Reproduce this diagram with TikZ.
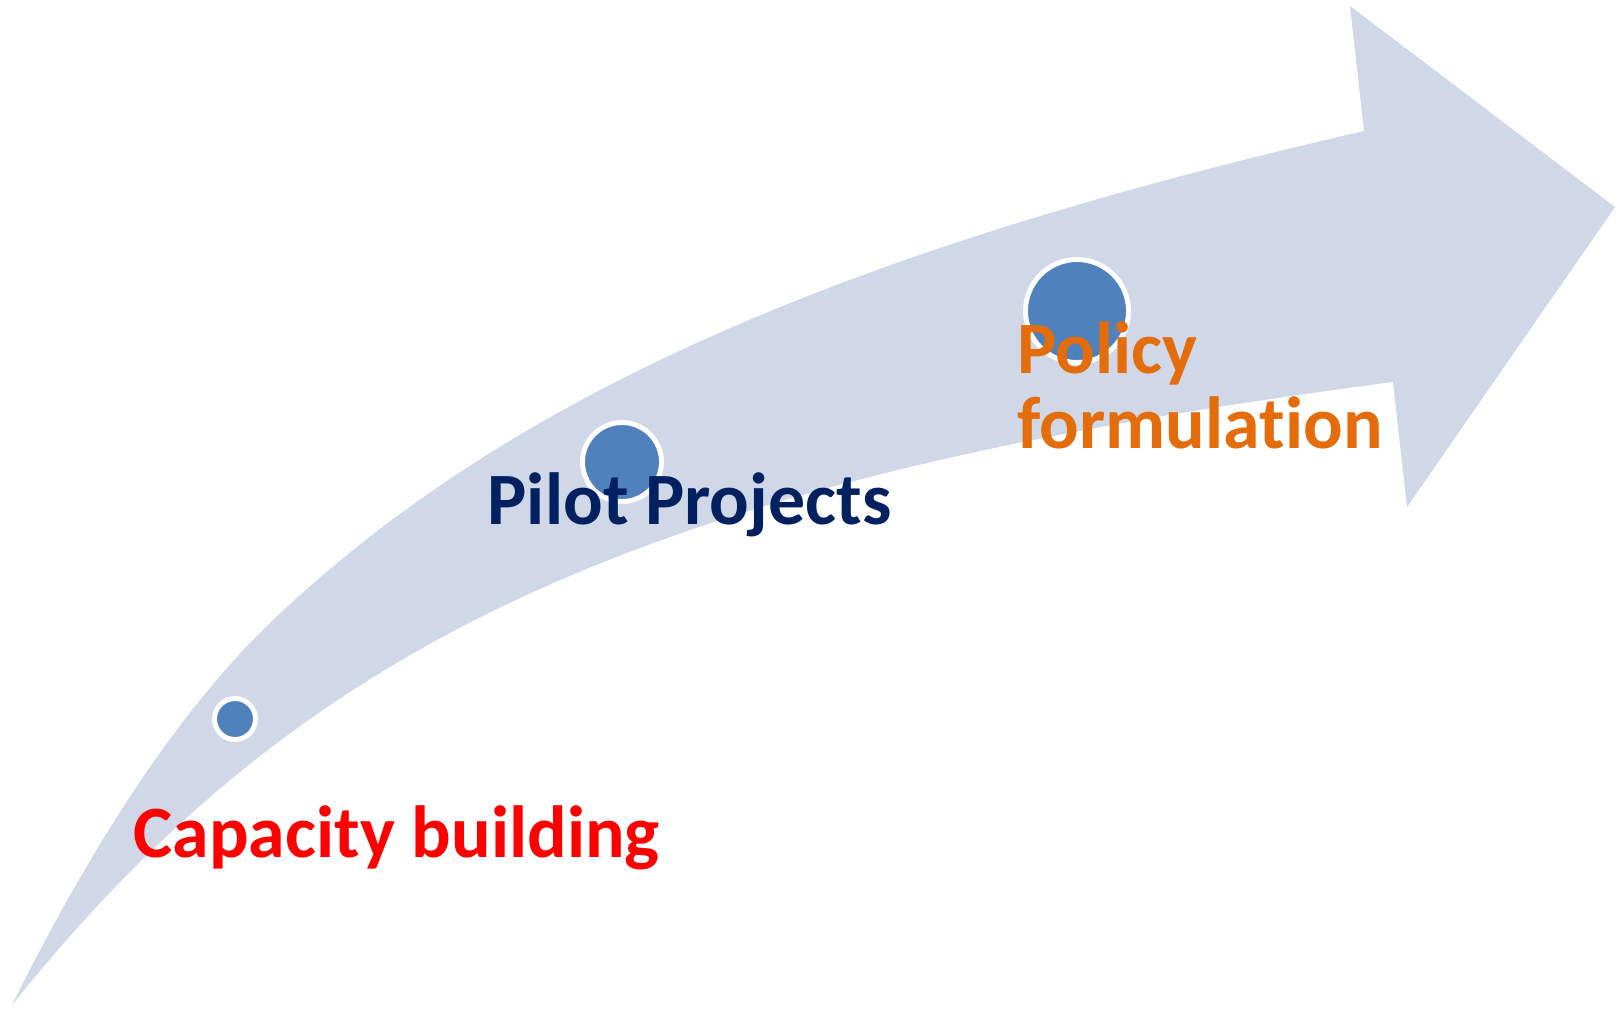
\documentclass[tikz,border=0pt]{standalone}
\usepackage{fontspec}
\setmainfont{Carlito}[Ligatures=NoCommon]
\usepackage{tikz}
\definecolor{bandfill}{HTML}{D0D8E8}
\definecolor{dotfill}{HTML}{4F81BD}
\definecolor{stepnavy}{HTML}{002060}
\definecolor{steporange}{HTML}{E46C0A}
\begin{document}
\begin{tikzpicture}[
  x=0.01cm, y=-0.01cm,
  dot/.style={
    circle, draw=white, fill=dotfill,
    line width=1.4pt, inner sep=0pt
  },
  lbl/.style={
    anchor=base west, inner sep=0pt, align=left,
    font=\fontsize{21}{21.3}\selectfont\bfseries
  }
]
  \useasboundingbox (0,0) rectangle (1621,1008);
  % the curved band with its head
  \fill[bandfill] (12,1005) .. controls (99,830) and (186,703) .. (273,620)
    .. controls (505,400) and (832,253) .. (1364,131)
    -- (1350,6) -- (1615,207) -- (1407,507) -- (1393,382)
    .. controls (654,478) and (309,634) .. (12,1005) -- cycle;
  \foreach \d/\r/\p in {c1/41/{(235,719)},c2/79/{(622,462)},c3/103/{(1077,311)}} {
    \node[dot, minimum size=\r*0.01cm] (\d) at \p {};
  }
  \node[lbl, text=red] (cap) at (133,857) {Capacity building};
  \node[lbl, text=stepnavy] (pilot) at (487,524) {Pilot Projects};
  \node[lbl, text=steporange] (policy) at (1017,448) {Policy\\formulation};
\end{tikzpicture}
\end{document}
